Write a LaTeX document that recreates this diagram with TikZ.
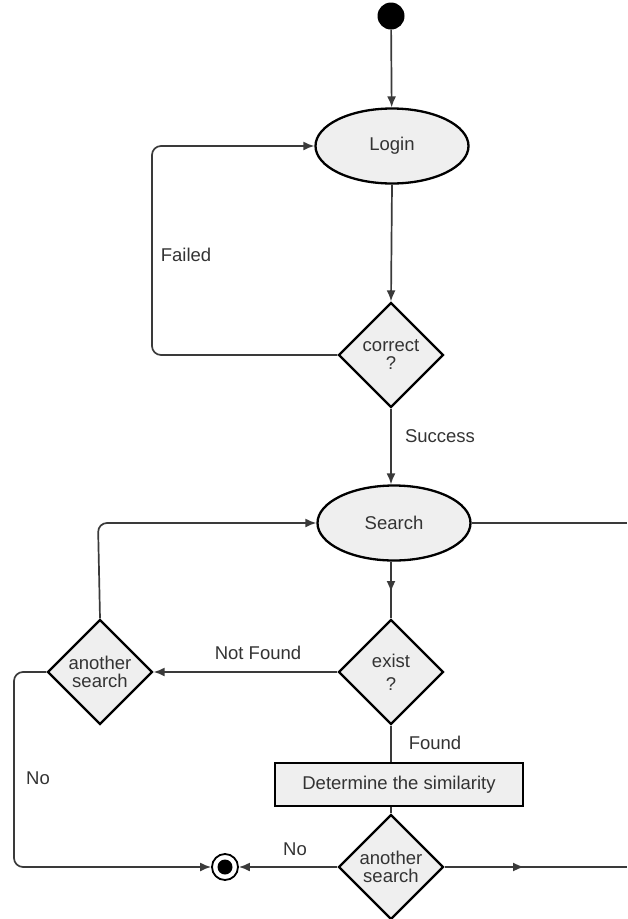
\documentclass[tikz,border=0pt]{standalone}
\usepackage{fontspec}
\setmainfont{Liberation Sans}
\usetikzlibrary{shapes.geometric,arrows.meta}
\definecolor{nodefill}{HTML}{EFEFEF}
\definecolor{linecol}{HTML}{3A3A3A}
\definecolor{txt}{HTML}{333333}
\begin{document}
\begin{tikzpicture}[x=1pt,y=-1pt,
  every node/.style={font=\fontsize{18.5}{18.5}\selectfont, text=txt},
  state/.style={ellipse, draw=black, line width=2.3pt, fill=nodefill, minimum width=153pt, minimum height=75pt, inner sep=0pt},
  decision/.style={diamond, draw=black, line width=2.3pt, fill=nodefill, minimum width=105pt, minimum height=105pt, inner sep=0pt, align=center},
  activity/.style={rectangle, draw=black, line width=2.3pt, fill=nodefill, minimum width=248pt, minimum height=43pt, inner sep=0pt},
  conn/.style={draw=linecol, line width=1.7pt},
  arr/.style={conn, -{Latex[length=11pt,width=9pt]}},
  lbl/.style={inner sep=0pt}
]
\useasboundingbox (0,0) rectangle (627,919);
% nodes
\node[circle, fill=black, minimum size=27pt, inner sep=0pt] (start) at (391,16) {};
\node[state] (login) at (392,146) {Login};
\node[decision, font=\fontsize{18.5}{18}\selectfont] (correct) at (391,355) {correct\\?};
\node[state] (search) at (394,523) {Search};
\node[decision, font=\fontsize{18.5}{23}\selectfont] (exist) at (391,672) {exist\\?};
\node[decision, font=\fontsize{18.5}{18.5}\selectfont] (again1) at (100,672) {another\\search};
\node[activity] (sim) at (399,784.5) {Determine the similarity};
\node[decision, font=\fontsize{18.5}{18.5}\selectfont] (again2) at (391,867) {another\\search};
\node[circle, draw=black, line width=1.8pt, fill=white, minimum size=26pt, inner sep=0pt] (end) at (225,867) {};
\node[circle, fill=black, minimum size=15pt, inner sep=0pt] (endin) at (end.center) {};
% helper coordinates
\coordinate (failB) at (152,355);
\coordinate (failT) at (152,146);
\coordinate (ex1) at (391,592);
\coordinate (srchL) at (98,523);
\coordinate (noL1) at (14,672);
\coordinate (noL2) at (14,867);
\coordinate (rtop) at (627,523);
\coordinate (rmid) at (524,867);
\coordinate (rbot) at (627,867);
% connectors
\draw[arr] (start) -- (login);
\draw[arr] (login.south) -- (correct.north);
\draw[arr, rounded corners=9pt] (correct.west) -- (failB) -- (failT) -- (login.west);
\draw[arr] (correct.south) -- (correct.south |- search.north);
\draw[conn] (search.south -| exist.north) -- (exist.north);
\draw[arr] (search.south -| exist.north) -- (ex1);
\draw[arr] (exist.west) -- (again1.east);
\draw[arr, rounded corners=9pt] (again1.north) -- (srchL) -- (search.west);
\draw[conn] (search.east) -- (rtop);
\draw[conn] (exist.south) -- (exist.south |- sim.north);
\draw[conn] (again2.north |- sim.south) -- (again2.north);
\draw[arr] (again2.west) -- (end.east);
\draw[arr, rounded corners=9pt] (again1.west) -- (noL1) -- (noL2) -- (end.west);
\draw[conn] (again2.east) -- (rbot);
\draw[arr] (again2.east) -- (rmid);
% labels
\node[lbl] (lfailed) at (186,255) {Failed};
\node[lbl] (lsuccess) at (440,436) {Success};
\node[lbl] (lnotfound) at (258,653) {Not Found};
\node[lbl] (lfound) at (435,743) {Found};
\node[lbl] (lno1) at (38,778) {No};
\node[lbl] (lno2) at (295,849) {No};
\end{tikzpicture}
\end{document}
